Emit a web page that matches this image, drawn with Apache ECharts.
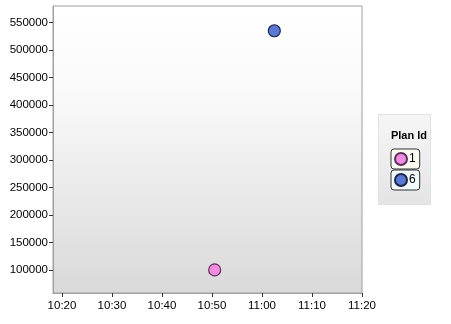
<!DOCTYPE html>
<html><head><meta charset="utf-8">
<script src="https://cdn.jsdelivr.net/npm/echarts@6/dist/echarts.min.js"></script>
<style>html,body{margin:0;padding:0;background:#fff}#c{width:451px;height:324px}</style>
</head><body><div id="c"></div>
<script>
// Data
const planIds = ['1', '6'];
const planTimes = ['10:50:32', '11:02:28'];
const planValues = [100000, 535000];
const planColors = ['#f28ce0', '#5a78d6'];
const planBorders = ['#5e2f5e', '#1c2648'];
const xTickLabels = ['10:20', '10:30', '10:40', '10:50', '11:00', '11:10', '11:20'];
const yTickValues = [100000, 150000, 200000, 250000, 300000, 350000, 400000, 450000, 500000, 550000];

function toMin(s) { const p = s.split(':').map(Number); return p[0] * 60 + p[1] + (p[2] || 0) / 60; }
function fmt(m) { const h = Math.floor(m / 60), mm = Math.round(m - h * 60); return h + ':' + String(mm).padStart(2, '0'); }
const xTicks = xTickLabels.map(toMin);

const chart = echarts.init(document.getElementById('c'), null, { renderer: 'canvas' });
const font = 'Liberation Sans';
const series = planIds.map((id, i) => ({
  name: id, type: 'scatter', symbol: 'circle', symbolSize: 12,
  itemStyle: { color: planColors[i], borderColor: planBorders[i], borderWidth: 1.2, opacity: 1 },
  data: [[toMin(planTimes[i]), planValues[i]]]
}));
const legends = planIds.map((id, i) => ({
  data: [id], left: 391, top: 149 + i * 21, orient: 'vertical',
  icon: 'circle', itemWidth: 12, itemHeight: 12, itemGap: 0,
  padding: [3, 4, 3, 3], backgroundColor: i === 0 ? '#fbfbf2' : '#f0fafa',
  borderColor: '#333', borderWidth: 1, borderRadius: 3,
  textStyle: { fontFamily: font, fontSize: 12, color: '#000', padding: [0, 0, 0, -3] },
  selectedMode: false
}));
chart.setOption({
  animation: false,
  backgroundColor: '#fff',
  title: { text: 'Plan Id', left: 404, top: 125, textAlign: 'center',
    textStyle: { fontFamily: font, fontSize: 11, fontWeight: 'bold', color: '#000' } },
  graphic: [{ type: 'rect', left: 378, top: 114, z: -10,
    shape: { width: 52, height: 90 },
    style: { fill: new echarts.graphic.LinearGradient(0, 0, 0, 1, [{ offset: 0, color: '#f6f6f6' }, { offset: 1, color: '#e4e4e4' }]), stroke: '#e2e2e2' } }],
  legend: legends,
  grid: { left: 53, top: 6, right: 89, bottom: 31, show: true, borderColor: '#a0a0a0', borderWidth: 1,
    backgroundColor: new echarts.graphic.LinearGradient(0, 0, 0, 1, [{ offset: 0, color: '#ffffff' }, { offset: 0.3, color: '#fafafa' }, { offset: 1, color: '#d9d9d9' }]) },
  xAxis: { type: 'value', min: toMin('10:18:12'), max: toMin('11:20'),
    splitLine: { show: false },
    axisLine: { show: true, lineStyle: { color: '#a0a0a0' } },
    axisTick: { show: true, length: 4, customValues: xTicks, lineStyle: { color: '#333' } },
    axisLabel: { customValues: xTicks, formatter: v => fmt(v), fontFamily: font, fontSize: 11.5, color: '#000', margin: 7 } },
  yAxis: { type: 'value', min: 58000, max: 580000,
    splitLine: { show: false },
    axisLine: { show: true, lineStyle: { color: '#a0a0a0' } },
    axisTick: { show: true, length: 4, customValues: yTickValues, lineStyle: { color: '#333' } },
    axisLabel: { customValues: yTickValues, formatter: v => String(v), fontFamily: font, fontSize: 11.5, color: '#000', margin: 5 } },
  series
});
</script></body></html>
